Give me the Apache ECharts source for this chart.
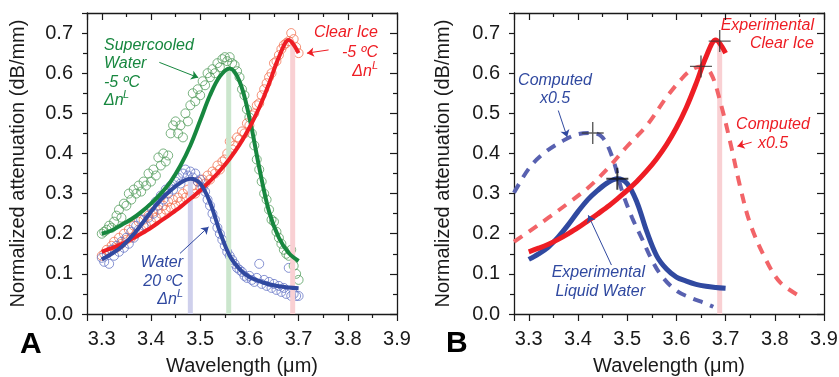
<!DOCTYPE html>
<html>
<head>
<meta charset="utf-8">
<script src="https://cdn.jsdelivr.net/npm/echarts@6/dist/echarts.min.js"></script>
<style>
  html, body { margin: 0; padding: 0; background: #fff; }
  #chart { width: 839px; height: 377px; }
</style>
</head>
<body>
<div id="chart"></div>
<script>
// fitted curves (panel A, reused as the experimental curves in panel B)
const fitX = [3.30, 3.32, 3.34, 3.36, 3.38, 3.40, 3.42, 3.44, 3.46, 3.48, 3.50,
              3.52, 3.54, 3.56, 3.58, 3.60, 3.62, 3.64, 3.66, 3.68, 3.70];
const supercooledFit = [0.200, 0.208, 0.222, 0.236, 0.254, 0.275, 0.300, 0.330, 0.370, 0.420, 0.482,
                        0.545, 0.592, 0.612, 0.580, 0.490, 0.365, 0.255, 0.190, 0.152, 0.132];
const iceFit = [0.155, 0.164, 0.174, 0.186, 0.200, 0.215, 0.232, 0.249, 0.267, 0.287, 0.308,
                0.331, 0.357, 0.387, 0.422, 0.464, 0.514, 0.574, 0.640, 0.683, 0.650];
const waterFit = [0.136, 0.150, 0.167, 0.192, 0.222, 0.255, 0.285, 0.308, 0.327, 0.337, 0.325,
                  0.278, 0.205, 0.145, 0.112, 0.092, 0.082, 0.074, 0.069, 0.066, 0.064];

// measured points (panel A)
const scatterX = [3.300, 3.305, 3.310, 3.315, 3.320, 3.325, 3.330, 3.335, 3.340, 3.345,
                  3.350, 3.355, 3.360, 3.365, 3.370, 3.375, 3.380, 3.385, 3.390, 3.395,
                  3.400, 3.405, 3.410, 3.415, 3.420, 3.425, 3.430, 3.435, 3.440, 3.445,
                  3.450, 3.455, 3.460, 3.465, 3.470, 3.475, 3.480, 3.485, 3.490, 3.495,
                  3.500, 3.505, 3.510, 3.515, 3.520, 3.525, 3.530, 3.535, 3.540, 3.545,
                  3.550, 3.555, 3.560, 3.565, 3.570, 3.575, 3.580, 3.585, 3.590, 3.595,
                  3.600, 3.605, 3.610, 3.615, 3.620, 3.625, 3.630, 3.635, 3.640, 3.645,
                  3.650, 3.655, 3.660, 3.665, 3.670, 3.675, 3.680, 3.685, 3.690, 3.695, 3.700];
const supercooledPts = [0.200, 0.205, 0.210, 0.220, 0.215, 0.230, 0.245, 0.260, 0.240, 0.275,
                        0.270, 0.300, 0.285, 0.310, 0.300, 0.320, 0.305, 0.330, 0.320, 0.350,
                        0.330, 0.360, 0.345, 0.390, 0.370, 0.400, 0.380, 0.395, 0.450, 0.470,
                        0.480, 0.450, 0.470, 0.440, 0.500, 0.480, 0.520, 0.550, 0.530, 0.560,
                        0.545, 0.580, 0.570, 0.600, 0.590, 0.610, 0.600, 0.625, 0.615, 0.635,
                        0.640, 0.630, 0.640, 0.625, 0.620, 0.605, 0.590, 0.560, 0.545, 0.510,
                        0.490, 0.450, 0.420, 0.385, 0.360, 0.330, 0.300, 0.285, 0.260, 0.235,
                        0.230, 0.205, 0.190, 0.175, 0.160, 0.150, 0.145, 0.160, 0.120, 0.100, 0.085];
const icePts = [0.145, 0.150, 0.160, 0.155, 0.170, 0.180, 0.165, 0.190, 0.175, 0.200,
                0.185, 0.210, 0.190, 0.220, 0.200, 0.230, 0.210, 0.235, 0.220, 0.245,
                0.230, 0.255, 0.240, 0.260, 0.250, 0.270, 0.260, 0.280, 0.265, 0.285,
                0.270, 0.290, 0.280, 0.300, 0.290, 0.310, 0.295, 0.320, 0.300, 0.330,
                0.315, 0.335, 0.325, 0.345, 0.335, 0.355, 0.350, 0.370, 0.360, 0.380,
                0.385, 0.400, 0.430, 0.410, 0.420, 0.440, 0.435, 0.455, 0.450, 0.475,
                0.470, 0.495, 0.500, 0.520, 0.525, 0.545, 0.560, 0.575, 0.590, 0.600,
                0.625, 0.630, 0.645, 0.660, 0.670, 0.675, 0.680, 0.700, 0.685, 0.665, 0.650];
const waterPts = [0.140, 0.130, 0.150, 0.125, 0.160, 0.145, 0.170, 0.155, 0.180, 0.165,
                  0.190, 0.175, 0.205, 0.190, 0.220, 0.210, 0.235, 0.220, 0.250, 0.240,
                  0.265, 0.250, 0.280, 0.270, 0.295, 0.285, 0.310, 0.300, 0.320, 0.310,
                  0.330, 0.340, 0.325, 0.350, 0.360, 0.345, 0.355, 0.340, 0.350, 0.330,
                  0.335, 0.315, 0.305, 0.285, 0.270, 0.250, 0.235, 0.215, 0.200, 0.185,
                  0.170, 0.155, 0.145, 0.135, 0.125, 0.115, 0.110, 0.105, 0.095, 0.090,
                  0.095, 0.085, 0.080, 0.090, 0.125, 0.075, 0.085, 0.070, 0.080, 0.065,
                  0.075, 0.060, 0.070, 0.055, 0.065, 0.050, 0.115, 0.045, 0.050, 0.045, 0.045];

// peak markers of panel A: [x, top]
const peakBarsA = [[3.480, 0.340], [3.558, 0.615], [3.688, 0.680]];

// computed curves (panel B)
const compIceX = [3.27, 3.30, 3.34, 3.38, 3.42, 3.46, 3.50, 3.54, 3.58, 3.61,
                  3.63, 3.65, 3.67, 3.69, 3.71, 3.73, 3.75, 3.78, 3.81, 3.85];
const compIce = [0.180, 0.205, 0.240, 0.276, 0.314, 0.362, 0.418, 0.470, 0.540, 0.585,
                 0.608, 0.617, 0.600, 0.525, 0.425, 0.315, 0.225, 0.140, 0.080, 0.045];
const compWaterX = [3.27, 3.30, 3.33, 3.37, 3.40, 3.43, 3.45, 3.47, 3.49,
                    3.51, 3.53, 3.55, 3.57, 3.60, 3.63, 3.66, 3.675];
const compWater = [0.302, 0.362, 0.400, 0.432, 0.448, 0.451, 0.440, 0.390, 0.305,
                   0.240, 0.188, 0.135, 0.095, 0.058, 0.040, 0.026, 0.018];
const peaksB = [[3.43, 0.451], [3.65, 0.617], [3.688, 0.680]];
const peakWaterB = [[3.48, 0.337]];
const peakBarB = [3.688, 0.680];

const ink = '#1a1a1a';
const font = '"Liberation Sans", Arial, sans-serif';
const GREEN = '#17873f', RED = '#ee1d24', BLUE = '#3049a0';

const zip = (xs, ys) => xs.map((x, i) => [x, ys[i]]);
const bar = (x, top) => [[x, 0], [x, top]];

function xAx(grid, pos) {
  const bottom = pos === 'bottom';
  return {
    type: 'value', gridIndex: grid, position: pos, min: 3.27, max: 3.9, splitNumber: 6,
    axisLine: { show: true, onZero: false, lineStyle: { color: ink, width: 1.3 } },
    axisTick: { show: true, inside: !bottom, length: 7, lineStyle: { color: ink, width: 1.2 } },
    minorTick: { show: true, splitNumber: 2, length: 4, lineStyle: { color: ink, width: 1.2 } },
    axisLabel: { show: bottom, showMinLabel: false, margin: 15, fontSize: 20, color: ink,
                 fontFamily: font, formatter: v => v.toFixed(1) },
    splitLine: { show: false },
    name: bottom ? 'Wavelength (μm)' : '', nameLocation: 'middle', nameGap: 42,
    nameTextStyle: { fontSize: 20, color: ink, fontFamily: font }
  };
}
function yAx(grid, pos, gap) {
  const left = pos === 'left';
  return {
    type: 'value', gridIndex: grid, position: pos, min: 0, max: 0.75, interval: 0.1,
    axisLine: { show: true, onZero: false, lineStyle: { color: ink, width: 1.3 } },
    axisTick: { show: true, inside: !left, length: left ? 5 : 7, lineStyle: { color: ink, width: 1.2 } },
    minorTick: { show: true, splitNumber: 2, length: 4, lineStyle: { color: ink, width: 1.2 } },
    axisLabel: { show: left, showMaxLabel: false, margin: 14, fontSize: 20, color: ink,
                 fontFamily: font, formatter: v => v.toFixed(1) },
    splitLine: { show: false },
    name: left ? 'Normalized attenuation (dB/mm)' : '', nameLocation: 'middle', nameGap: gap,
    nameTextStyle: { fontSize: 20, color: ink, fontFamily: font }
  };
}

function arrows(color, list) {
  return {
    silent: true, symbol: ['none', 'arrow'], symbolSize: 7, animation: false,
    label: { show: false }, emphasis: { disabled: true },
    lineStyle: { color: color, width: 1, type: 'solid' },
    data: list.map(a => [{ coord: a[0] }, { coord: a[1] }])
  };
}

function txt(x, y, s, color, align, size) {
  return {
    type: 'text', x: x, y: y, silent: true,
    style: { text: s, fill: color, align: align, verticalAlign: 'middle',
             font: 'italic ' + (size || 16) + 'px ' + font }
  };
}

const chart = echarts.init(document.getElementById('chart'));

const A = { xAxisIndex: 0, yAxisIndex: 0 };
const B = { xAxisIndex: 2, yAxisIndex: 2 };
const barColorsA = ['#cfd0ec', '#cbe6cd', '#f9d0d3'];

const series = [];
peakBarsA.forEach((p, i) => series.push(Object.assign({
  type: 'line', data: bar(p[0], p[1]), symbol: 'none', silent: true,
  lineStyle: { color: barColorsA[i], width: 5 }
}, A)));

[[supercooledPts, '#4f9a58'], [icePts, '#f2704f'], [waterPts, '#6171c4']].forEach(s => series.push(Object.assign({
  type: 'scatter', data: zip(scatterX, s[0]), symbol: 'circle', symbolSize: 9,
  itemStyle: { color: 'transparent', borderColor: s[1], borderWidth: 0.9, opacity: 0.85 }
}, A)));

const fitLine = (data, color, width, extra) => ({
  type: 'line', data: data, showSymbol: false, smooth: 0.35,
  lineStyle: Object.assign({ color: color, width: width }, extra || {})
});

series.push(Object.assign(fitLine(zip(fitX, supercooledFit), GREEN, 4),
  { markLine: arrows(GREEN, [[[3.417, 0.627], [3.496, 0.589]]]) }, A));
series.push(Object.assign(fitLine(zip(fitX, iceFit), RED, 4),
  { markLine: arrows(RED, [[[3.761, 0.658], [3.717, 0.650]]]) }, A));
series.push(Object.assign(fitLine(zip(fitX, waterFit), BLUE, 4),
  { markLine: arrows(BLUE, [[[3.459, 0.151], [3.517, 0.217]]]) }, A));

// panel B
series.push(Object.assign({
  type: 'line', data: bar(peakBarB[0], peakBarB[1]), symbol: 'none', silent: true,
  lineStyle: { color: '#f9d0d3', width: 5 }
}, B));
series.push(Object.assign(fitLine(zip(compWaterX, compWater), '#5861b0', 4, { type: [10, 8] }),
  { markLine: arrows(BLUE, [[[3.360, 0.507], [3.378, 0.441]]]) }, B));
series.push(Object.assign(fitLine(zip(compIceX, compIce), '#f26468', 4, { type: [10, 8] }),
  { markLine: arrows(RED, [[[3.753, 0.428], [3.724, 0.418]]]) }, B));
series.push(Object.assign(fitLine(zip(fitX, waterFit), BLUE, 5),
  { markLine: arrows(BLUE, [[[3.468, 0.122], [3.421, 0.246]]]) }, B));
series.push(Object.assign(fitLine(zip(fitX, iceFit), RED, 5), B));

const cross = 'path://M0 10 L20 10 M10 0 L10 20';
series.push(Object.assign({
  type: 'scatter', data: peaksB, symbol: cross, symbolSize: 22, z: 5,
  itemStyle: { color: 'none', borderColor: '#333', borderWidth: 1.4 }
}, B));
series.push(Object.assign({
  type: 'scatter', data: peakWaterB, symbol: cross, symbolSize: 22, z: 5,
  itemStyle: { color: 'none', borderColor: '#111', borderWidth: 2 }
}, B));

const graphic = [
  { type: 'text', x: 20, y: 345, style: { text: 'A', fill: '#000', verticalAlign: 'middle', font: 'bold 30px ' + font } },
  { type: 'text', x: 446, y: 344, style: { text: 'B', fill: '#000', verticalAlign: 'middle', font: 'bold 30px ' + font } },
  txt(104, 46, 'Supercooled', GREEN, 'left'),
  txt(104, 64, 'Water', GREEN, 'left'),
  txt(104, 83, '-5 ºC', GREEN, 'left'),
  txt(104, 101, 'Δn', GREEN, 'left'),
  txt(123, 95, 'L', GREEN, 'left', 11),
  txt(378, 33, 'Clear Ice', RED, 'right'),
  txt(378, 53, '-5 ºC', RED, 'right'),
  txt(372, 72, 'Δn', RED, 'right'),
  txt(372, 66, 'L', RED, 'left', 11),
  txt(183, 263, 'Water', BLUE, 'right'),
  txt(183, 282, '20 ºC', BLUE, 'right'),
  txt(177, 300, 'Δn', BLUE, 'right'),
  txt(177, 294, 'L', BLUE, 'left', 11),
  txt(814, 26, 'Experimental', RED, 'right'),
  txt(814, 44, 'Clear Ice', RED, 'right'),
  txt(555, 81, 'Computed', BLUE, 'center'),
  txt(555, 99, 'x0.5', BLUE, 'center'),
  txt(773, 125, 'Computed', RED, 'center'),
  txt(773, 144, 'x0.5', RED, 'center'),
  txt(645, 273, 'Experimental', BLUE, 'right'),
  txt(645, 292, 'Liquid Water', BLUE, 'right')
];

chart.setOption({
  animation: false,
  backgroundColor: '#fff',
  grid: [
    { left: 87, right: 442, top: 13, bottom: 63, outerBoundsMode: 'none', containLabel: false },
    { left: 514, right: 15, top: 13, bottom: 63, outerBoundsMode: 'none', containLabel: false }
  ],
  xAxis: [xAx(0, 'bottom'), xAx(0, 'top'), xAx(1, 'bottom'), xAx(1, 'top')],
  yAxis: [yAx(0, 'left', 59), yAx(0, 'right', 0), yAx(1, 'left', 61), yAx(1, 'right', 0)],
  series: series,
  graphic: graphic
});
window.addEventListener('resize', () => chart.resize());
</script>
</body>
</html>
